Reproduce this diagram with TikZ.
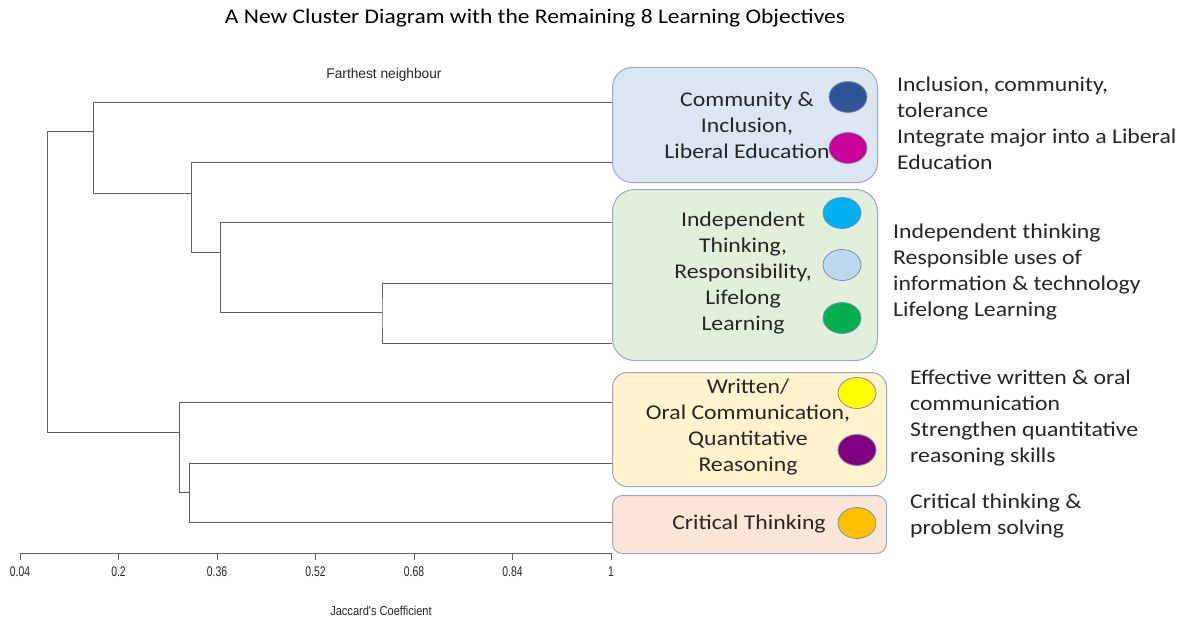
\documentclass[tikz,border=0pt]{standalone}
\usepackage{fontspec}
\setmainfont{Carlito}
\newfontfamily\calf[FakeStretch=1.13]{Carlito}
\newfontfamily\arf{Liberation Sans}
\definecolor{fillblue}{HTML}{DCE6F2}
\definecolor{fillgreen}{HTML}{E2EFDA}
\definecolor{fillyellow}{HTML}{FFF2CC}
\definecolor{fillpeach}{HTML}{FBE5D6}
\definecolor{boxline}{HTML}{93A8CE}
\definecolor{dotline}{HTML}{7C8DB0}
\definecolor{treeline}{HTML}{606060}
\definecolor{txt}{HTML}{262626}
\definecolor{cA}{HTML}{2F5597}
\definecolor{cB}{HTML}{CC0099}
\definecolor{cC}{HTML}{00B0F0}
\definecolor{cD}{HTML}{BDD7EE}
\definecolor{cE}{HTML}{00B050}
\definecolor{cF}{HTML}{FFFF00}
\definecolor{cG}{HTML}{800080}
\definecolor{cH}{HTML}{FFC000}
\tikzset{
  groupbox/.style={draw=boxline, line width=1pt, anchor=north west, inner sep=0pt},
  grouplabel/.style={align=center, text=txt, font=\calf\fontsize{21}{26}\selectfont, inner sep=0pt},
  desc/.style={align=left, anchor=west, text=txt, font=\calf\fontsize{21}{26}\selectfont, inner sep=0pt},
  dot/.style={ellipse, draw=dotline, line width=0.8pt, minimum width=38pt, minimum height=31pt, inner sep=0pt},
  tree/.style={draw=treeline, line width=1pt},
  ticklabel/.style={font=\arf\fontsize{14}{16}\selectfont, text=txt, inner sep=0pt},
}
\usetikzlibrary{shapes.geometric}
\begin{document}
\begin{tikzpicture}[x=1pt, y=-1pt]
\useasboundingbox[fill=white] (0,0) rectangle (1183,618);

% title
\node[font=\calf\fontsize{20.8}{24}\selectfont, text=black] (title) at (535,18) {A New Cluster Diagram with the Remaining 8 Learning Objectives};
\node[font=\arf\fontsize{14}{16}\selectfont, text=txt] (farthest) at (384,75) {\scalebox{0.98}[1]{Farthest neighbour}};

% boxes
\node[groupbox, fill=fillblue, rounded corners=20pt, minimum width=265pt, minimum height=115pt] (bblue) at (612,67) {};
\node[groupbox, fill=fillgreen, rounded corners=22pt, minimum width=265pt, minimum height=171pt] (bgreen) at (612,189) {};
\node[groupbox, fill=fillyellow, rounded corners=15pt, minimum width=274pt, minimum height=114pt] (byellow) at (612,372) {};
\node[groupbox, fill=fillpeach, rounded corners=10pt, minimum width=274pt, minimum height=58pt] (bpeach) at (612,495) {};

\node[grouplabel] (lblue) at (747,125) {Community \&\\Inclusion,\\Liberal Education};
\node[grouplabel] (lgreen) at (743,273.5) {Independent\\Thinking,\\Responsibility,\\Lifelong\\Learning};
\node[grouplabel] (lyellow) at (748,427) {Written/\\Oral Communication,\\Quantitative\\Reasoning};
\node[grouplabel] (lpeach) at (749,524) {Critical Thinking};

% dots
\node[dot, fill=cA] (dA) at (848,97) {};
\node[dot, fill=cB] (dB) at (848,148) {};
\node[dot, fill=cC] (dC) at (842,213) {};
\node[dot, fill=cD] (dD) at (842,265) {};
\node[dot, fill=cE] (dE) at (842,318) {};
\node[dot, fill=cF] (dF) at (857,393) {};
\node[dot, fill=cG] (dG) at (857,450) {};
\node[dot, fill=cH] (dH) at (857,523) {};

% descriptions
\node[desc] (tblue) at (897,123.5) {Inclusion, community,\\tolerance\\Integrate major into a Liberal\\Education};
\node[desc] (tgreen) at (893,272) {Independent thinking\\Responsible uses of\\information \& technology\\Lifelong Learning};
\node[desc] (tyellow) at (910,418) {Effective written \& oral\\communication\\Strengthen quantitative\\reasoning skills};
\node[desc] (tpeach) at (910,516) {Critical thinking \&\\problem solving};

% leaves
\coordinate (l1) at (612,102);
\coordinate (l2) at (612,162);
\coordinate (l3) at (612,222);
\coordinate (l4) at (612,283);
\coordinate (l5) at (612,343);
\coordinate (l6) at (612,402);
\coordinate (l7) at (612,463);
\coordinate (l8) at (612,522);
% merges
\coordinate (c45) at (382,312);
\coordinate (c345) at (220,252);
\coordinate (c2345) at (191,193);
\coordinate (c1) at (93,131);
\coordinate (c78) at (189,492);
\coordinate (c678) at (179,432);
\coordinate (root) at (47,432);

\draw[tree] (l4) -| (c45) |- (l5);
\draw[tree] (c45) -| (c345);
\draw[tree] (l3) -| (c345);
\draw[tree] (c345) -| (c2345);
\draw[tree] (l2) -| (c2345);
\draw[tree] (c2345) -| (c1);
\draw[tree] (l1) -| (c1);
\draw[tree] (c1) -| (root);
\draw[tree] (root) -- (c678);
\draw[tree] (l6) -| (c678);
\draw[tree] (c78) -| (c678);
\draw[tree] (l7) -| (c78);
\draw[tree] (l8) -| (c78);

% axis
\coordinate (ax0) at (20,553);
\coordinate (ax1) at (611,553);
\draw[tree] (ax0) -- (ax1);
\foreach \i/\lab in {0/0.04,1/0.2,2/0.36,3/0.52,4/0.68,5/0.84,6/1}{
  \draw[tree] (20+98.5*\i,553) -- (20+98.5*\i,560);
  \node[ticklabel] (tk\i) at (20+98.5*\i,572) {\scalebox{0.74}[1]{\lab}};
}
\node[font=\arf\fontsize{13}{15}\selectfont, text=txt] (xlabel) at (381,611) {\scalebox{0.85}[1]{Jaccard's Coefficient}};
\end{tikzpicture}
\end{document}
